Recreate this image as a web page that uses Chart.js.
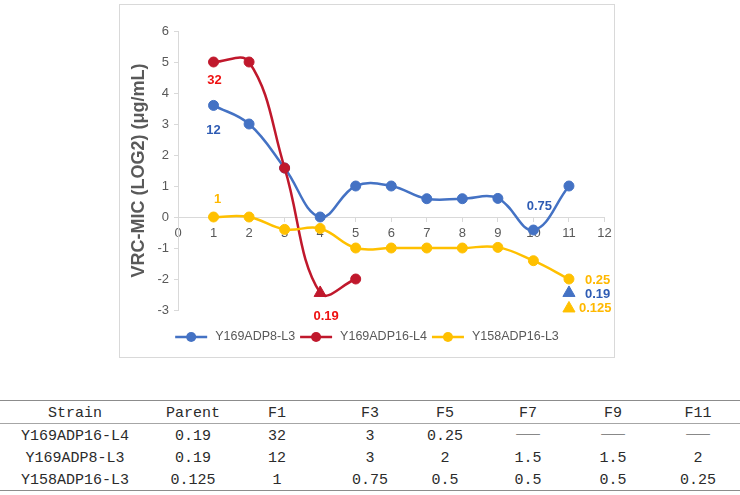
<!DOCTYPE html>
<html lang="en">
<head>
  <meta charset="UTF-8" />
  <title>VRC-MIC</title>
  <style>
    body {
      margin: 0;
      width: 740px;
      height: 495px;
      background: #fff;
      position: relative;
      overflow: hidden;
      font-family: "Liberation Sans", Arial, sans-serif;
    }
    .chart-box {
      position: absolute;
      left: 119px;
      top: 4px;
      width: 496px;
      height: 354px;
      border: 1px solid #d9d9d9;
      box-sizing: border-box;
      background: #fff;
    }
    .rule {
      position: absolute;
      left: 0;
      width: 740px;
      height: 1px;
      background: #8c8c8c;
    }
    .cell {
      position: absolute;
      transform: translateX(-50%);
      white-space: nowrap;
      line-height: 20px;
      font-family: "Liberation Mono", monospace;
      font-size: 15px;
      color: #2b2b2b;
    }
    .cell.dash {
      font-family: "Noto Sans CJK SC", sans-serif;
      color: #888;
      margin-top: -4px;
    }
  </style>
  <script src="https://cdn.jsdelivr.net/npm/chart.js"></script>
</head>
<body>
  <div class="chart-box">
    <canvas id="mic" width="494" height="352"></canvas>
  </div>
  <div class="rule" style="top:400px;"></div>
  <div class="rule" style="top:423px; background:#a6a6a6;"></div>
  <div class="rule" style="top:490px;"></div>
  <div id="table"></div>

  <script>
    // chart data (log2 of MIC)
    const xValues = [1, 2, 3, 4, 5, 6, 7, 8, 9, 10, 11];
    const p8L3 = [3.6, 3, 1.58, 0, 1, 1, 0.59, 0.59, 0.6, -0.42, 1];
    const p16L4 = [5, 5, 1.58, -2.45, -2];
    const p16L4Styles = ['circle', 'circle', 'circle', 'triangle', 'circle'];
    const p158L3 = [0, 0, -0.4, -0.37, -1, -1, -1, -1, -0.98, -1.41, -2];
    const extraX = [11];
    const p8L3Extra = [-2.45];
    const p158L3Extra = [-2.95];

    const seriesNames = ['Y169ADP8-L3', 'Y169ADP16-L4', 'Y158ADP16-L3'];
    const yTitle = 'VRC-MIC (LOG2) (\u03bcg/mL)';

    // value labels on the chart
    const labelText = ['32', '12', '1', '0.19', '0.75', '0.25', '0.19', '0.125'];
    const labelX = [1, 1, 1, 4, 10, 11, 11, 11];
    const labelY = [5, 3.6, 0, -2.45, -0.42, -2, -2.45, -2.95];
    const labelSeries = [1, 0, 2, 1, 0, 2, 0, 2];

    // table data
    const tableHeader = ['Strain', 'Parent', 'F1', 'F3', 'F5', 'F7', 'F9', 'F11'];
    const strains = ['Y169ADP16-L4', 'Y169ADP8-L3', 'Y158ADP16-L3'];
    const micL4 = ['0.19', '32', '3', '0.25', '——', '——', '——'];
    const micP8 = ['0.19', '12', '3', '2', '1.5', '1.5', '2'];
    const micP158 = ['0.125', '1', '0.75', '0.5', '0.5', '0.5', '0.25'];

    const lineColors = ['#4472C4', '#C0182C', '#FFC000'];
    const textColors = ['#2F5CB4', '#EE1111', '#FFB800'];

    // label placement (pixel offsets from the anchor point)
    const labelOffset = [
      { dx: 1, dy: 18, align: 'center' },
      { dx: 0, dy: 25, align: 'center' },
      { dx: 4, dy: -18, align: 'center' },
      { dx: 6, dy: 23, align: 'center' },
      { dx: 6, dy: -24, align: 'center' },
      { dx: 16, dy: 1, align: 'left' },
      { dx: 16, dy: 1, align: 'left' },
      { dx: 10, dy: 0, align: 'left' }
    ];

    const toPoints = (xs, ys) => ys.map((y, i) => ({ x: xs[i], y: y }));

    const valueLabels = {
      id: 'valueLabels',
      afterDatasetsDraw(chart) {
        const ctx = chart.ctx;
        const xs = chart.scales.x, ys = chart.scales.y;
        ctx.save();
        ctx.font = 'bold 13px "Liberation Sans", Arial, sans-serif';
        ctx.textBaseline = 'middle';
        labelText.forEach((t, i) => {
          const o = labelOffset[i];
          ctx.fillStyle = textColors[labelSeries[i]];
          ctx.textAlign = o.align;
          ctx.fillText(t, xs.getPixelForValue(labelX[i]) + o.dx, ys.getPixelForValue(labelY[i]) + o.dy);
        });
        ctx.restore();
      }
    };

    const lineLegend = {
      id: 'lineLegend',
      afterDraw(chart) {
        const ctx = chart.ctx;
        ctx.save();
        ctx.font = '12.5px "Liberation Sans", Arial, sans-serif';
        ctx.textBaseline = 'middle';
        ctx.textAlign = 'left';
        const lineW = 32, gap = 8, itemGap = 5, y = 332;
        const widths = seriesNames.map(n => lineW + gap + ctx.measureText(n).width);
        const total = widths.reduce((a, b) => a + b, 0) + itemGap * (seriesNames.length - 1);
        let x = (chart.width - total) / 2;
        seriesNames.forEach((n, i) => {
          ctx.strokeStyle = lineColors[i];
          ctx.fillStyle = lineColors[i];
          ctx.lineWidth = 2.5;
          ctx.beginPath();
          ctx.moveTo(x, y);
          ctx.lineTo(x + lineW, y);
          ctx.stroke();
          ctx.beginPath();
          ctx.arc(x + lineW / 2, y, 5, 0, Math.PI * 2);
          ctx.fill();
          ctx.fillStyle = '#595959';
          ctx.fillText(n, x + lineW + gap, y);
          x += widths[i] + itemGap;
        });
        ctx.restore();
      }
    };

    const tickFont = { family: '"Liberation Sans", Arial, sans-serif', size: 13 };

    new Chart(document.getElementById('mic').getContext('2d'), {
      type: 'line',
      data: {
        datasets: [{
          label: seriesNames[0],
          data: toPoints(xValues, p8L3),
          borderColor: lineColors[0],
          backgroundColor: lineColors[0],
          pointRadius: 5,
          order: 3
        }, {
          label: seriesNames[1],
          data: toPoints(xValues, p16L4),
          borderColor: lineColors[1],
          backgroundColor: lineColors[1],
          pointStyle: p16L4Styles,
          pointRadius: p16L4Styles.map(s => s === 'triangle' ? 7 : 5),
          clip: false,
          order: 2
        }, {
          label: seriesNames[2],
          data: toPoints(xValues, p158L3),
          borderColor: lineColors[2],
          backgroundColor: lineColors[2],
          pointRadius: 5,
          order: 1
        }, {
          label: seriesNames[0] + ' parent',
          data: toPoints(extraX, p8L3Extra),
          showLine: false,
          pointStyle: 'triangle',
          pointRadius: 7,
          borderColor: lineColors[0],
          backgroundColor: lineColors[0],
          clip: false,
          order: 0
        }, {
          label: seriesNames[2] + ' parent',
          data: toPoints(extraX, p158L3Extra),
          showLine: false,
          pointStyle: 'triangle',
          pointRadius: 7,
          borderColor: lineColors[2],
          backgroundColor: lineColors[2],
          clip: false,
          order: 0
        }]
      },
      options: {
        responsive: false,
        animation: false,
        devicePixelRatio: 1,
        layout: { padding: { left: 0, right: 9.5, top: 26, bottom: 47 } },
        elements: {
          line: { tension: 0.4, borderWidth: 2.5, cubicInterpolationMode: 'default' },
          point: { borderWidth: 1, hoverRadius: 5 }
        },
        plugins: {
          legend: { display: false },
          tooltip: { enabled: false }
        },
        scales: {
          x: {
            type: 'linear',
            min: 0,
            max: 12,
            position: { y: 0 },
            afterFit(scale) { scale.paddingLeft = 0; scale.paddingRight = 0; },
            ticks: { stepSize: 1, color: '#595959', font: tickFont, padding: 5, maxRotation: 0 },
            grid: { drawOnChartArea: false, drawTicks: true, tickLength: 4, color: '#d9d9d9' },
            border: { color: '#d9d9d9', width: 1 }
          },
          y: {
            type: 'linear',
            min: -3,
            max: 6,
            position: 'left',
            afterFit(scale) { scale.width = 58; },
            ticks: { stepSize: 1, color: '#595959', font: tickFont, padding: 5 },
            grid: { drawOnChartArea: false, drawTicks: true, tickLength: 4, color: '#d9d9d9' },
            border: { color: '#d9d9d9', width: 1 },
            title: {
              display: true,
              text: yTitle,
              color: '#595959',
              font: { family: '"Liberation Sans", Arial, sans-serif', size: 18, weight: 'bold' },
              padding: { top: 8, bottom: 0 }
            }
          }
        }
      },
      plugins: [valueLabels, lineLegend]
    });

    // table below the chart
    const colCenters = [75, 193, 277, 370, 445, 528, 613, 698];
    const rowCenters = [414, 437, 459, 481];
    const tableRows = [
      tableHeader,
      [strains[0]].concat(micL4),
      [strains[1]].concat(micP8),
      [strains[2]].concat(micP158)
    ];
    const table = document.getElementById('table');
    tableRows.forEach((row, r) => {
      row.forEach((text, c) => {
        const d = document.createElement('div');
        d.className = 'cell' + (text === '——' ? ' dash' : '');
        d.textContent = text;
        d.style.left = colCenters[c] + 'px';
        d.style.top = (rowCenters[r] - 10) + 'px';
        table.appendChild(d);
      });
    });
  </script>
</body>
</html>
